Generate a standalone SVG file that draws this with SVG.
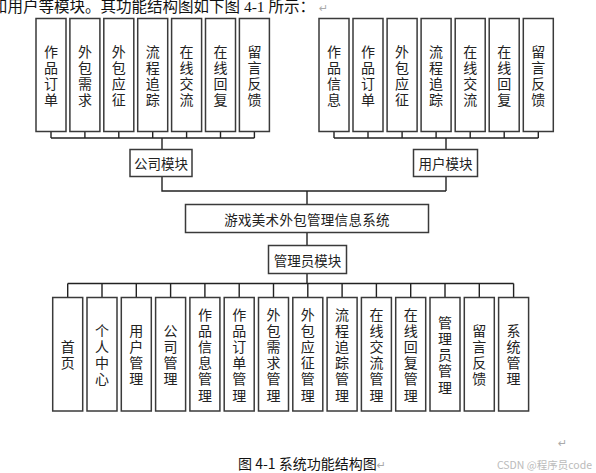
<svg xmlns="http://www.w3.org/2000/svg" width="596" height="473" viewBox="0 0 596 473">
<style>
.box{fill:#fff;stroke:#3a3a3a;stroke-width:1.5}
.ln{fill:none;stroke:#222;stroke-width:1.4}
.t{font-family:"Noto Sans CJK SC","Noto Sans",sans-serif;font-size:14px;fill:#222;text-anchor:middle;dominant-baseline:central}
.h{font-family:"Noto Sans CJK SC","Noto Sans",sans-serif;font-size:13.5px;fill:#222;text-anchor:middle;dominant-baseline:central}
.body{font-family:"Liberation Serif","Noto Sans CJK SC",serif;font-size:15.5px;fill:#111}
.ret{font-family:"DejaVu Sans",sans-serif;fill:#aaa}
</style>
<rect width="596" height="473" fill="#fff"/>
<text class="body" x="-8" y="12">和用户等模块。其功能结构图如下图 4-1 所示：<tspan class="ret" font-size="11" dx="4">↵</tspan></text>

<g id="connectors">
<path class="ln" d="M51,131.5V138M84.9,131.5V138M118.8,131.5V138M152.7,131.5V138M186.6,131.5V138M220.5,131.5V138M254.4,131.5V138M51,138H254.4M162,138V149.5M162,176.5V191H446M307,191V204.5"/>
<path class="ln" d="M334,131.5V138M368,131.5V138M402.1,131.5V138M436.1,131.5V138M470.2,131.5V138M504.2,131.5V138M538.3,131.5V138M334,138H538.3M446,138V149.5M446,176.5V191"/>
<path class="ln" d="M307,232.5V245.5M307,273.5V283.5M67.7,283.5H513.6"/>
<path class="ln" d="M67.7,283.5V297.5M102,283.5V297.5M136.3,283.5V297.5M170.6,283.5V297.5M204.9,283.5V297.5M239.2,283.5V297.5M273.5,283.5V297.5M307.8,283.5V297.5M342.1,283.5V297.5M376.4,283.5V297.5M410.7,283.5V297.5M445,283.5V297.5M479.3,283.5V297.5M513.6,283.5V297.5"/>
</g>

<g id="company">
<rect class="box" x="130" y="149.5" width="62" height="27"/>
<text class="h" x="161" y="163">公司模块</text>
</g>
<g id="user">
<rect class="box" x="413.5" y="149.5" width="64" height="27"/>
<text class="h" x="445.5" y="163">用户模块</text>
</g>
<g id="system">
<rect class="box" x="185.5" y="204.5" width="243" height="28"/>
<text class="h" x="307" y="218.5" letter-spacing="0.3">游戏美术外包管理信息系统</text>
</g>
<g id="admin">
<rect class="box" x="268.5" y="245.5" width="78" height="28"/>
<text class="h" x="307.5" y="259.5">管理员模块</text>
</g>

<g id="c1"><rect class="box" x="36" y="18.5" width="30" height="113"/><text class="t"><tspan x="51" y="50.7">作</tspan><tspan x="51" y="66.9">品</tspan><tspan x="51" y="83.1">订</tspan><tspan x="51" y="99.3">单</tspan></text></g>
<g id="c2"><rect class="box" x="69.9" y="18.5" width="30" height="113"/><text class="t"><tspan x="84.9" y="50.7">外</tspan><tspan x="84.9" y="66.9">包</tspan><tspan x="84.9" y="83.1">需</tspan><tspan x="84.9" y="99.3">求</tspan></text></g>
<g id="c3"><rect class="box" x="103.8" y="18.5" width="30" height="113"/><text class="t"><tspan x="118.8" y="50.7">外</tspan><tspan x="118.8" y="66.9">包</tspan><tspan x="118.8" y="83.1">应</tspan><tspan x="118.8" y="99.3">征</tspan></text></g>
<g id="c4"><rect class="box" x="137.7" y="18.5" width="30" height="113"/><text class="t"><tspan x="152.7" y="50.7">流</tspan><tspan x="152.7" y="66.9">程</tspan><tspan x="152.7" y="83.1">追</tspan><tspan x="152.7" y="99.3">踪</tspan></text></g>
<g id="c5"><rect class="box" x="171.6" y="18.5" width="30" height="113"/><text class="t"><tspan x="186.6" y="50.7">在</tspan><tspan x="186.6" y="66.9">线</tspan><tspan x="186.6" y="83.1">交</tspan><tspan x="186.6" y="99.3">流</tspan></text></g>
<g id="c6"><rect class="box" x="205.5" y="18.5" width="30" height="113"/><text class="t"><tspan x="220.5" y="50.7">在</tspan><tspan x="220.5" y="66.9">线</tspan><tspan x="220.5" y="83.1">回</tspan><tspan x="220.5" y="99.3">复</tspan></text></g>
<g id="c7"><rect class="box" x="239.4" y="18.5" width="30" height="113"/><text class="t"><tspan x="254.4" y="50.7">留</tspan><tspan x="254.4" y="66.9">言</tspan><tspan x="254.4" y="83.1">反</tspan><tspan x="254.4" y="99.3">馈</tspan></text></g>

<g id="u1"><rect class="box" x="319" y="18.5" width="30" height="113"/><text class="t"><tspan x="334" y="50.7">作</tspan><tspan x="334" y="66.9">品</tspan><tspan x="334" y="83.1">信</tspan><tspan x="334" y="99.3">息</tspan></text></g>
<g id="u2"><rect class="box" x="353" y="18.5" width="30" height="113"/><text class="t"><tspan x="368" y="50.7">作</tspan><tspan x="368" y="66.9">品</tspan><tspan x="368" y="83.1">订</tspan><tspan x="368" y="99.3">单</tspan></text></g>
<g id="u3"><rect class="box" x="387.1" y="18.5" width="30" height="113"/><text class="t"><tspan x="402.1" y="50.7">外</tspan><tspan x="402.1" y="66.9">包</tspan><tspan x="402.1" y="83.1">应</tspan><tspan x="402.1" y="99.3">征</tspan></text></g>
<g id="u4"><rect class="box" x="421.1" y="18.5" width="30" height="113"/><text class="t"><tspan x="436.1" y="50.7">流</tspan><tspan x="436.1" y="66.9">程</tspan><tspan x="436.1" y="83.1">追</tspan><tspan x="436.1" y="99.3">踪</tspan></text></g>
<g id="u5"><rect class="box" x="455.2" y="18.5" width="30" height="113"/><text class="t"><tspan x="470.2" y="50.7">在</tspan><tspan x="470.2" y="66.9">线</tspan><tspan x="470.2" y="83.1">交</tspan><tspan x="470.2" y="99.3">流</tspan></text></g>
<g id="u6"><rect class="box" x="489.2" y="18.5" width="30" height="113"/><text class="t"><tspan x="504.2" y="50.7">在</tspan><tspan x="504.2" y="66.9">线</tspan><tspan x="504.2" y="83.1">回</tspan><tspan x="504.2" y="99.3">复</tspan></text></g>
<g id="u7"><rect class="box" x="523.3" y="18.5" width="30" height="113"/><text class="t"><tspan x="538.3" y="50.7">留</tspan><tspan x="538.3" y="66.9">言</tspan><tspan x="538.3" y="83.1">反</tspan><tspan x="538.3" y="99.3">馈</tspan></text></g>

<g id="a1"><rect class="box" x="52.7" y="297.5" width="30" height="113.5"/><text class="t"><tspan x="67.7" y="346">首</tspan><tspan x="67.7" y="362.2">页</tspan></text></g>
<g id="a2"><rect class="box" x="87" y="297.5" width="30" height="113.5"/><text class="t"><tspan x="102" y="329.8">个</tspan><tspan x="102" y="346">人</tspan><tspan x="102" y="362.2">中</tspan><tspan x="102" y="378.4">心</tspan></text></g>
<g id="a3"><rect class="box" x="121.3" y="297.5" width="30" height="113.5"/><text class="t"><tspan x="136.3" y="329.8">用</tspan><tspan x="136.3" y="346">户</tspan><tspan x="136.3" y="362.2">管</tspan><tspan x="136.3" y="378.4">理</tspan></text></g>
<g id="a4"><rect class="box" x="155.6" y="297.5" width="30" height="113.5"/><text class="t"><tspan x="170.6" y="329.8">公</tspan><tspan x="170.6" y="346">司</tspan><tspan x="170.6" y="362.2">管</tspan><tspan x="170.6" y="378.4">理</tspan></text></g>
<g id="a5"><rect class="box" x="189.9" y="297.5" width="30" height="113.5"/><text class="t"><tspan x="204.9" y="313.6">作</tspan><tspan x="204.9" y="329.8">品</tspan><tspan x="204.9" y="346">信</tspan><tspan x="204.9" y="362.2">息</tspan><tspan x="204.9" y="378.4">管</tspan><tspan x="204.9" y="394.6">理</tspan></text></g>
<g id="a6"><rect class="box" x="224.2" y="297.5" width="30" height="113.5"/><text class="t"><tspan x="239.2" y="313.6">作</tspan><tspan x="239.2" y="329.8">品</tspan><tspan x="239.2" y="346">订</tspan><tspan x="239.2" y="362.2">单</tspan><tspan x="239.2" y="378.4">管</tspan><tspan x="239.2" y="394.6">理</tspan></text></g>
<g id="a7"><rect class="box" x="258.5" y="297.5" width="30" height="113.5"/><text class="t"><tspan x="273.5" y="313.6">外</tspan><tspan x="273.5" y="329.8">包</tspan><tspan x="273.5" y="346">需</tspan><tspan x="273.5" y="362.2">求</tspan><tspan x="273.5" y="378.4">管</tspan><tspan x="273.5" y="394.6">理</tspan></text></g>
<g id="a8"><rect class="box" x="292.8" y="297.5" width="30" height="113.5"/><text class="t"><tspan x="307.8" y="313.6">外</tspan><tspan x="307.8" y="329.8">包</tspan><tspan x="307.8" y="346">应</tspan><tspan x="307.8" y="362.2">征</tspan><tspan x="307.8" y="378.4">管</tspan><tspan x="307.8" y="394.6">理</tspan></text></g>
<g id="a9"><rect class="box" x="327.1" y="297.5" width="30" height="113.5"/><text class="t"><tspan x="342.1" y="313.6">流</tspan><tspan x="342.1" y="329.8">程</tspan><tspan x="342.1" y="346">追</tspan><tspan x="342.1" y="362.2">踪</tspan><tspan x="342.1" y="378.4">管</tspan><tspan x="342.1" y="394.6">理</tspan></text></g>
<g id="a10"><rect class="box" x="361.4" y="297.5" width="30" height="113.5"/><text class="t"><tspan x="376.4" y="313.6">在</tspan><tspan x="376.4" y="329.8">线</tspan><tspan x="376.4" y="346">交</tspan><tspan x="376.4" y="362.2">流</tspan><tspan x="376.4" y="378.4">管</tspan><tspan x="376.4" y="394.6">理</tspan></text></g>
<g id="a11"><rect class="box" x="395.7" y="297.5" width="30" height="113.5"/><text class="t"><tspan x="410.7" y="313.6">在</tspan><tspan x="410.7" y="329.8">线</tspan><tspan x="410.7" y="346">回</tspan><tspan x="410.7" y="362.2">复</tspan><tspan x="410.7" y="378.4">管</tspan><tspan x="410.7" y="394.6">理</tspan></text></g>
<g id="a12"><rect class="box" x="430" y="297.5" width="30" height="113.5"/><text class="t"><tspan x="445" y="321.7">管</tspan><tspan x="445" y="337.9">理</tspan><tspan x="445" y="354.1">员</tspan><tspan x="445" y="370.3">管</tspan><tspan x="445" y="386.5">理</tspan></text></g>
<g id="a13"><rect class="box" x="464.3" y="297.5" width="30" height="113.5"/><text class="t"><tspan x="479.3" y="329.8">留</tspan><tspan x="479.3" y="346">言</tspan><tspan x="479.3" y="362.2">反</tspan><tspan x="479.3" y="378.4">馈</tspan></text></g>
<g id="a14"><rect class="box" x="498.6" y="297.5" width="30" height="113.5"/><text class="t"><tspan x="513.6" y="329.8">系</tspan><tspan x="513.6" y="346">统</tspan><tspan x="513.6" y="362.2">管</tspan><tspan x="513.6" y="378.4">理</tspan></text></g>

<text class="ret" x="558" y="447" font-size="11">↵</text>
<text x="238" y="469" font-family="'Noto Sans CJK SC','Noto Sans',sans-serif" font-size="14" fill="#111">图 4-1 系统功能结构图<tspan class="ret" font-size="11">↵</tspan></text>
<text x="592" y="469" text-anchor="end" font-family="'Noto Sans CJK SC','Noto Sans',sans-serif" font-size="10.5" fill="#bbb">CSDN @程序员code</text>
</svg>
